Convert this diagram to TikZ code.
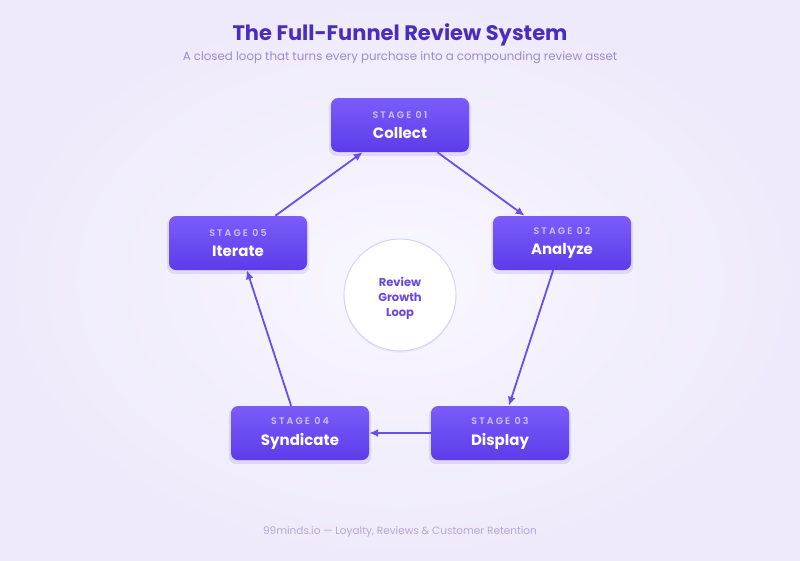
\documentclass[tikz,border=0pt]{standalone}
\usepackage{fontspec}
\setmainfont{Poppins}
\newfontfamily\stagefont[LetterSpace=22]{Poppins SemiBold}
\usetikzlibrary{arrows.meta,shadows}
\definecolor{bgA}{HTML}{F9F7FF}
\definecolor{bgB}{HTML}{EEEAFB}
\definecolor{titlec}{HTML}{4A2DBE}
\definecolor{subc}{HTML}{9B8DC9}
\definecolor{nodeA}{HTML}{7B5CF9}
\definecolor{nodeB}{HTML}{5C3CE9}
\definecolor{stagec}{HTML}{CDBFFF}
\definecolor{arrowc}{HTML}{6A4EEA}
\definecolor{circb}{HTML}{D9D1F5}
\definecolor{circt}{HTML}{6848E0}
\definecolor{footc}{HTML}{B3A8D6}
\tikzset{
  stagebox/.style={rectangle, rounded corners=7pt, minimum width=138pt, minimum height=54pt,
    inner sep=0pt, top color=nodeA, bottom color=nodeB, draw=none,
    drop shadow={shadow xshift=0pt, shadow yshift=-3pt, opacity=0.13, fill=nodeB, shadow scale=1.03},
    align=center, text=white},
  flow/.style={draw=arrowc, line width=1.8pt, -{Latex[length=9pt,width=8pt]}},
}
\newcommand{\stg}[2]{{\fontsize{9.5pt}{10pt}\stagefont\color{stagec}#1}\\[8pt]{\fontsize{15pt}{16pt}\selectfont\bfseries #2}}
\begin{document}
\begin{tikzpicture}[x=1pt,y=-1pt]
\useasboundingbox (0,0) rectangle (800,560);
\shade[inner color=bgA, outer color=bgB] (0,0) rectangle (800,560);
\node (title) at (400,35) {\fontsize{21pt}{25pt}\selectfont\bfseries\color{titlec}The Full-Funnel Review System};
\node (sub) at (400,58) {\fontsize{11.8pt}{14pt}\selectfont\color{subc}A closed loop that turns every purchase into a compounding review asset};
\node[stagebox] (s1) at (400,125) {\stg{STAGE 01}{Collect}};
\node[stagebox] (s2) at (562,243) {\stg{STAGE 02}{Analyze}};
\node[stagebox] (s3) at (500,433) {\stg{STAGE 03}{Display}};
\node[stagebox] (s4) at (300,433) {\stg{STAGE 04}{Syndicate}};
\node[stagebox] (s5) at (238,243) {\stg{STAGE 05}{Iterate}};
\node[circle, draw=circb, line width=1pt, fill=white, minimum size=112pt, inner sep=0pt,
  drop shadow={shadow xshift=0pt, shadow yshift=-2pt, opacity=0.06, fill=nodeB}] (hub) at (400,295) {};
\node[align=center, text=circt, font=\fontsize{11.5pt}{15pt}\selectfont\bfseries] (hubtext) at ([yshift=-3.5pt]hub.center)
  {Review\\Growth\\Loop};
\draw[flow] (s1) -- (s2);
\draw[flow] (s2) -- (s3);
\draw[flow] (s3) -- (s4);
\draw[flow] (s4) -- (s5);
\draw[flow] (s5) -- (s1);
\node (foot) at (400,532) {\fontsize{10.5pt}{12pt}\selectfont\color{footc}99minds.io — Loyalty, Reviews \& Customer Retention};
\end{tikzpicture}
\end{document}
